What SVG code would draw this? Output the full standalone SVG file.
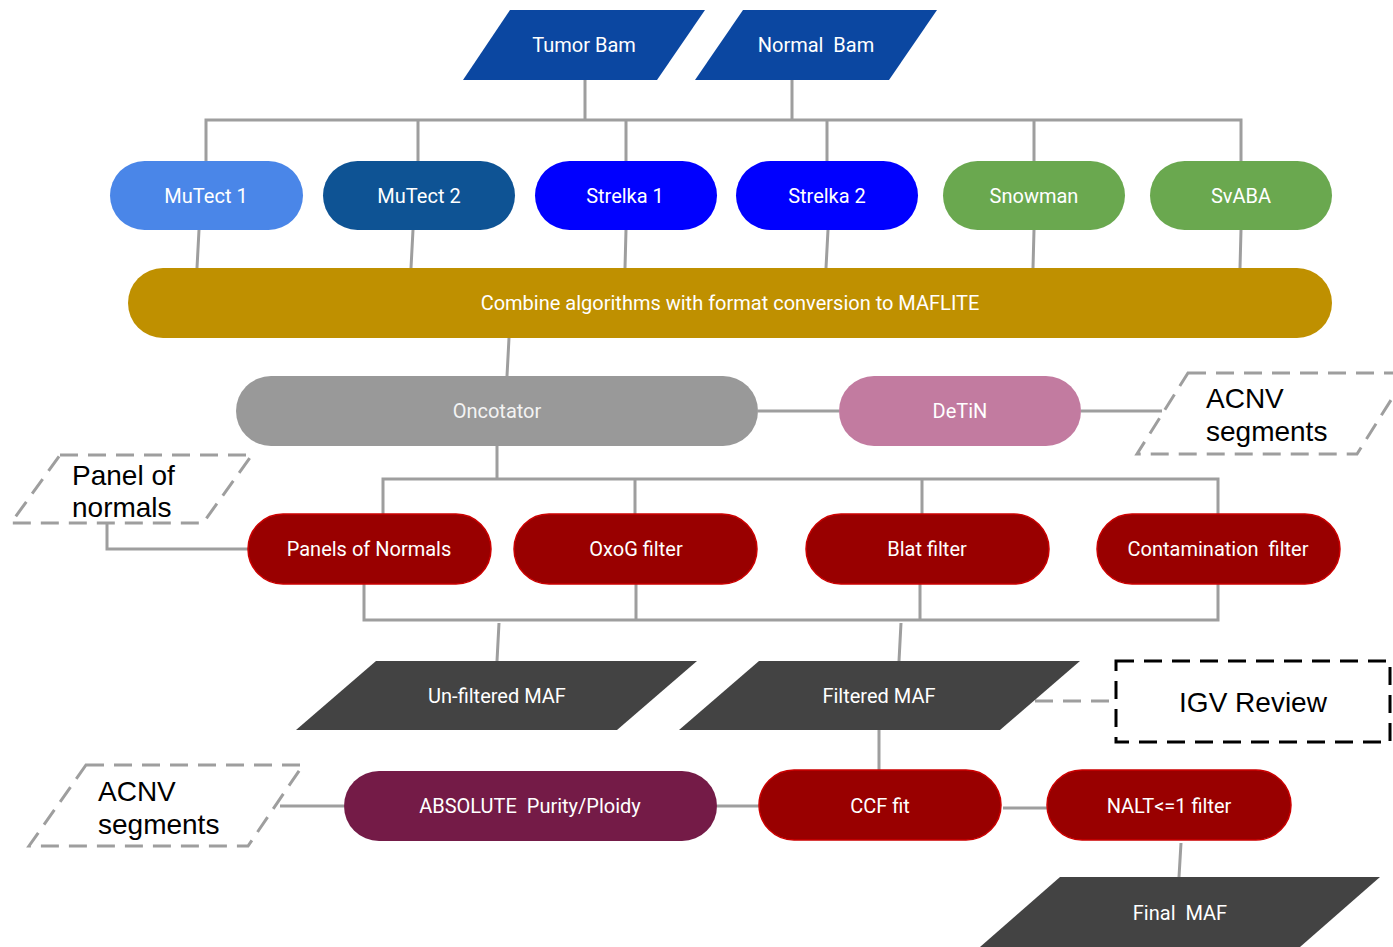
<svg xmlns="http://www.w3.org/2000/svg" width="1393" height="947" viewBox="0 0 1393 947">
<style>
.t{font-family:Roboto,"Liberation Sans",sans-serif;font-size:20px;fill:#ffffff;text-anchor:middle;dominant-baseline:central;white-space:pre}
.b{font-family:"Liberation Sans",Arial,sans-serif;font-size:28px;fill:#000000}
.c{fill:none;stroke:#9e9e9e;stroke-width:3}
.d{fill:none;stroke:#9e9e9e;stroke-width:3;stroke-dasharray:18,10}
.red{fill:#990000;stroke:#cc0000;stroke-width:1.5}
.maf{fill:#434343}
.bam{fill:#0b47a1}
</style>
<rect width="1393" height="947" fill="#ffffff"/>
<g id="connectors">
<path class="c" d="M585 80V120M792 80V120M206 161V120H1241V161M418 120V161M626 120V161M827 120V161M1034 120V161"/>
<path class="c" d="M199 230L197 268M413 230L411 268M626 230L625 268M828 230L826 268M1034 230L1033 268M1241 230L1240 268"/>
<path class="c" d="M509 338L507 376M758 411H839M1081 411H1162"/>
<path class="c" d="M497 446V479M383 514V479H1218V514M635 479V514M922 479V514"/>
<path class="c" d="M107 523V549H248"/>
<path class="c" d="M364 584V620H1218V584M636 584V620M920 584V620M499 623L497 661M901 623L899 661"/>
<path class="d" d="M1035 701H1116"/>
<path class="c" d="M879 730V770M280 806H344M717 806H759M1003 808H1047M1181 843L1179 877"/>
</g>
<g id="tumor-bam"><polygon class="bam" points="510,10 705,10 657,80 463,80"/><text class="t" x="584" y="45">Tumor Bam</text></g>
<g id="normal-bam"><polygon class="bam" points="743,10 937,10 889,80 695,80"/><text class="t" x="816" y="45">Normal  Bam</text></g>
<g id="mutect1"><rect x="110" y="161" width="193" height="69" rx="34.5" fill="#4a86e8"/><text class="t" x="206" y="196">MuTect 1</text></g>
<g id="mutect2"><rect x="323" y="161" width="192" height="69" rx="34.5" fill="#0e5394"/><text class="t" x="419" y="196">MuTect 2</text></g>
<g id="strelka1"><rect x="535" y="161" width="182" height="69" rx="34.5" fill="#0000ff"/><text class="t" x="625" y="196">Strelka 1</text></g>
<g id="strelka2"><rect x="736" y="161" width="182" height="69" rx="34.5" fill="#0000ff"/><text class="t" x="827" y="196">Strelka 2</text></g>
<g id="snowman"><rect x="943" y="161" width="182" height="69" rx="34.5" fill="#6aa84f"/><text class="t" x="1034" y="196">Snowman</text></g>
<g id="svaba"><rect x="1150" y="161" width="182" height="69" rx="34.5" fill="#6aa84f"/><text class="t" x="1241" y="196">SvABA</text></g>
<g id="combine"><rect x="128" y="268" width="1204" height="70" rx="35" fill="#bf9000"/><text class="t" x="730" y="303">Combine algorithms with format conversion to MAFLITE</text></g>
<g id="oncotator"><rect x="236" y="376" width="522" height="70" rx="35" fill="#999999"/><text class="t" x="497" y="411" style="fill:#f3f3f3">Oncotator</text></g>
<g id="detin"><rect x="839" y="376" width="242" height="70" rx="35" fill="#c27ba0"/><text class="t" x="960" y="411">DeTiN</text></g>
<g id="acnv-top"><polygon class="d" points="1188,373 1408,373 1357,454 1137,454"/><text class="b" x="1206" y="408">ACNV</text><text class="b" x="1206" y="441">segments</text></g>
<g id="panel-of-normals-input"><polygon class="d" points="60,455 252,455 203,523 11,523"/><text class="b" x="72" y="485">Panel of</text><text class="b" x="72" y="517">normals</text></g>
<g id="panels-of-normals"><rect class="red" x="248" y="514" width="243" height="70" rx="35"/><text class="t" x="369" y="549">Panels of Normals</text></g>
<g id="oxog"><rect class="red" x="514" y="514" width="243" height="70" rx="35"/><text class="t" x="636" y="549">OxoG filter</text></g>
<g id="blat"><rect class="red" x="806" y="514" width="243" height="70" rx="35"/><text class="t" x="927" y="549">Blat filter</text></g>
<g id="contamination"><rect class="red" x="1097" y="514" width="243" height="70" rx="35"/><text class="t" x="1218" y="549">Contamination  filter</text></g>
<g id="unfiltered-maf"><polygon class="maf" points="376,661 697,661 617,730 296,730"/><text class="t" x="497" y="696">Un-filtered MAF</text></g>
<g id="filtered-maf"><polygon class="maf" points="759,661 1080,661 1000,730 679,730"/><text class="t" x="879" y="696">Filtered MAF</text></g>
<g id="igv-review"><rect x="1116" y="661" width="274" height="81" fill="none" stroke="#000" stroke-width="3" stroke-dasharray="18,10"/><text class="b" x="1253" y="702" text-anchor="middle" dominant-baseline="central">IGV Review</text></g>
<g id="acnv-bottom"><polygon class="d" points="86,765 303,765 248,846 29,846"/><text class="b" x="98" y="801">ACNV</text><text class="b" x="98" y="834">segments</text></g>
<g id="absolute"><rect x="344" y="771" width="373" height="70" rx="35" fill="#741b47"/><text class="t" x="530" y="806">ABSOLUTE  Purity/Ploidy</text></g>
<g id="ccf-fit"><rect class="red" x="759" y="770" width="242" height="70" rx="35"/><text class="t" x="880" y="806">CCF fit</text></g>
<g id="nalt-filter"><rect class="red" x="1047" y="770" width="244" height="70" rx="35"/><text class="t" x="1169" y="806">NALT&lt;=1 filter</text></g>
<g id="final-maf"><polygon class="maf" points="1060,877 1380,877 1300,947 980,947"/><text class="t" x="1180" y="913">Final  MAF</text></g>
</svg>
